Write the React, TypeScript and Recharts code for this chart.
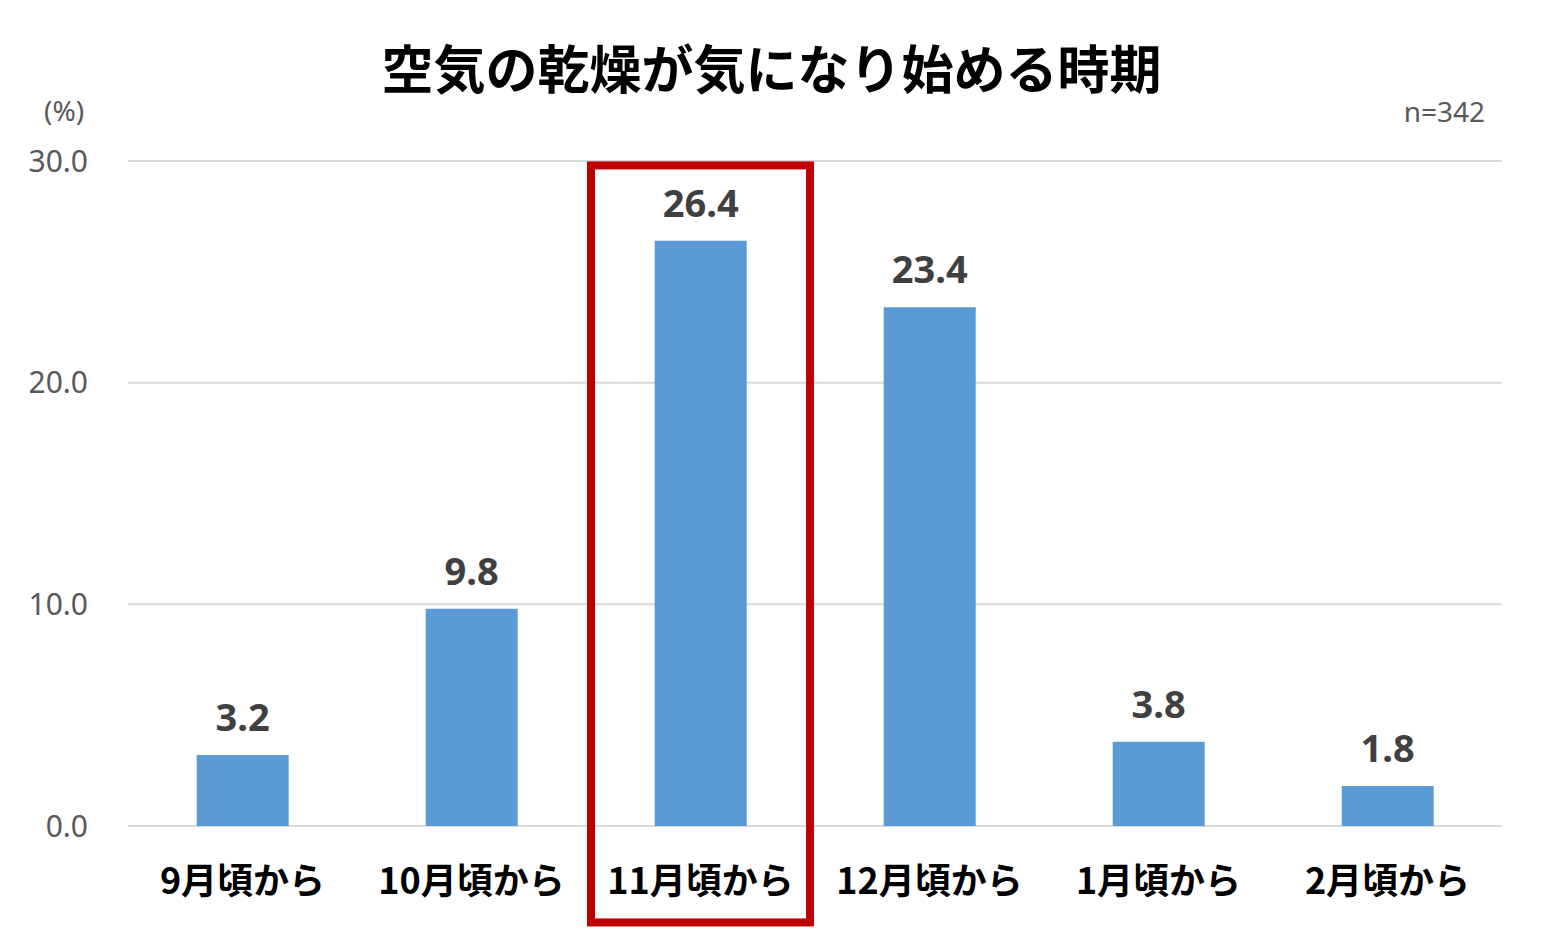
import React from "react";
import {
  BarChart,
  Bar,
  XAxis,
  YAxis,
  CartesianGrid,
  LabelList,
  ReferenceArea,
} from "recharts";

const categories = ["9月頃から", "10月頃から", "11月頃から", "12月頃から", "1月頃から", "2月頃から"];
const values = [3.2, 9.8, 26.4, 23.4, 3.8, 1.8];
const yTicks = [0, 10, 20, 30];
const highlightCategory = "11月頃から";
const title = "空気の乾燥が気になり始める時期";
const unitLabel = "(%)";
const sampleLabel = "n=342";

const data = categories.map((c, i) => ({ name: c, value: values[i] }));

const FONT = "'Noto Sans CJK JP', 'Noto Sans', sans-serif";

const HighlightShape = (props: any) => {
  const { x, y, width, height } = props;
  const inset = 5;
  return (
    <rect
      x={x + inset}
      y={y}
      width={width - inset * 2}
      height={height}
      fill="none"
      stroke="#C00000"
      strokeWidth={8}
    />
  );
};

export default function App() {
  return (
    <div
      style={{
        position: "absolute",
        left: 0,
        top: 0,
        width: 1543,
        height: 938,
        background: "#ffffff",
        fontFamily: FONT,
      }}
    >
      <div
        style={{
          position: "absolute",
          left: 0,
          top: 40,
          width: 1543,
          textAlign: "center",
          fontSize: 52,
          lineHeight: "54px",
          fontWeight: 700,
          color: "#000",
        }}
      >
        {title}
      </div>
      <div
        style={{
          position: "absolute",
          left: 44,
          top: 93,
          fontSize: 28,
          lineHeight: "34px",
          color: "#595959",
          fontFamily: "'Noto Sans', sans-serif",
        }}
      >
        {unitLabel}
      </div>
      <div
        style={{
          position: "absolute",
          right: 58,
          top: 94,
          fontSize: 28,
          lineHeight: "34px",
          color: "#595959",
          fontFamily: "'Noto Sans', sans-serif",
        }}
      >
        {sampleLabel}
      </div>
      <div style={{ position: "absolute", left: 0, top: 0 }}>
        <BarChart
          width={1543}
          height={938}
          data={data}
          margin={{ top: 161, right: 41, bottom: 0, left: 0 }}
          barCategoryGap="30%"
        >
          <CartesianGrid horizontal vertical={false} stroke="#D9D9D9" strokeWidth={2} />
          <XAxis
            dataKey="name"
            axisLine={false}
            tickLine={false}
            interval={0}
            height={112}
            tickMargin={36}
            tick={{ fill: "#000", fontSize: 36, fontWeight: 700, fontFamily: FONT }}
          />
          <YAxis
            domain={[0, 30]}
            ticks={yTicks}
            width={128}
            axisLine={false}
            tickLine={false}
            tickMargin={34}
            tickFormatter={(v: number) => v.toFixed(1)}
            tick={{ fill: "#595959", fontSize: 30, fontFamily: "'Noto Sans', sans-serif" }}
          />
          <ReferenceArea
            x1={highlightCategory}
            x2={highlightCategory}
            y1={29.8}
            y2={-4.35}
            ifOverflow="visible"
            shape={HighlightShape}
          />
          <Bar dataKey="value" fill="#5B9BD5" isAnimationActive={false}>
            <LabelList
              dataKey="value"
              position="top"
              offset={24}
              formatter={(v: number) => v.toFixed(1)}
              style={{ fill: "#404040", fontSize: 38, fontWeight: 700, fontFamily: "'Noto Sans', sans-serif" }}
            />
          </Bar>
        </BarChart>
      </div>
    </div>
  );
}
